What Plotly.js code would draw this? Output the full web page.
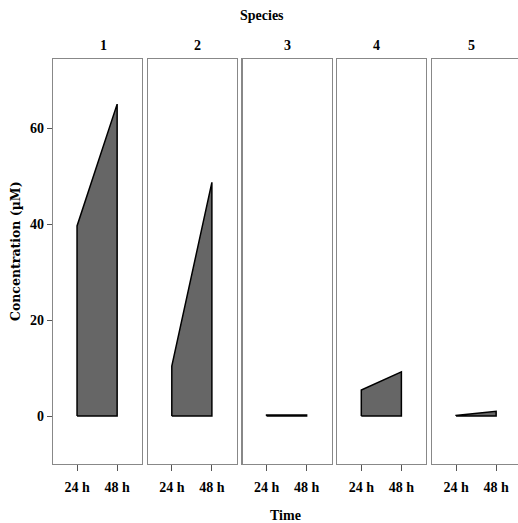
<!DOCTYPE html>
<html><head><meta charset="utf-8">
<script src="https://cdn.plot.ly/plotly-3.0.1.min.js"></script>
<style>html,body{margin:0;padding:0;overflow:hidden;background:#fff;}</style>
</head><body>
<div id="chart" style="width:521px;height:523px;"></div>
<script>
const species = ['1','2','3','4','5'];
const times = ['24 h','48 h'];
const conc24 = [39.6, 10.4, 0.2, 5.4, 0.1];
const conc48 = [65.0, 48.7, 0.2, 9.2, 1.0];
const yTicks = [0, 20, 40, 60];

const FONT = 'Liberation Serif, Times New Roman, serif';
const W = 521, ML = 53, PW = W - ML;
const step = 94.75, pw = 89;
const traces = [];
const layout = {
  width: W, height: 523,
  margin: {l: ML, r: 0, t: 59, b: 59},
  paper_bgcolor: '#fff', plot_bgcolor: '#fff',
  showlegend: false,
  font: {family: FONT, size: 14, color: '#000', weight: 'bold'},
  annotations: [
    {text: '<b>Species</b>', xref: 'paper', yref: 'paper', x: (262-ML)/PW, y: 1, yanchor: 'middle', yshift: 44, showarrow: false, font: {family: FONT, size: 14}},
    {text: '<b>Time</b>', xref: 'paper', yref: 'paper', x: (285-ML)/PW, y: 0, yanchor: 'middle', yshift: -51, showarrow: false, font: {family: FONT, size: 14}},
    {text: '<b>Concentration (µM)</b>', xref: 'paper', yref: 'paper', x: 0, xanchor: 'center', xshift: -38,
     y: (464-251)/405, yanchor: 'middle', textangle: -90, showarrow: false,
     font: {family: 'DejaVu Serif, serif', size: 12.5}}
  ]
};
species.forEach((s, i) => {
  const xa = i === 0 ? 'x' : 'x' + (i + 1);
  const ya = i === 0 ? 'y' : 'y' + (i + 1);
  traces.push({
    type: 'scatter', mode: 'lines', xaxis: xa, yaxis: ya,
    x: [times[0], times[0], times[1], times[1], times[0]],
    y: [0, conc24[i], conc48[i], 0, 0],
    fill: 'toself', fillcolor: '#666666',
    line: {color: '#000', width: 1.5}, hoverinfo: 'skip'
  });
  const left = i * step / PW, right = (i * step + pw) / PW;
  layout[i === 0 ? 'xaxis' : 'xaxis' + (i + 1)] = {
    domain: [left, Math.min(1, right)], anchor: ya,
    type: 'category', categoryorder: 'array', categoryarray: times,
    range: [-0.6, 1.62], showgrid: false, zeroline: false,
    showline: true, mirror: true, linecolor: '#888', linewidth: 1.2,
    ticks: 'outside', ticklen: 6, tickcolor: '#555', tickwidth: 1,
    ticklabelstandoff: 4,
    tickfont: {family: FONT, size: 14, weight: 'bold'}, fixedrange: true
  };
  layout[i === 0 ? 'yaxis' : 'yaxis' + (i + 1)] = {
    anchor: xa, range: [-10, 74.4], domain: [0, 1],
    showgrid: false, zeroline: false,
    showline: true, mirror: true, linecolor: '#888', linewidth: 1.2,
    ticks: i === 0 ? 'outside' : '', ticklen: 5, tickcolor: '#555',
    tickvals: yTicks, showticklabels: i === 0,
    tickfont: {family: FONT, size: 14, weight: 'bold'},
    fixedrange: true
  };
  layout.annotations.push({
    text: '<b>' + s + '</b>', xref: 'paper', yref: 'paper',
    x: (i * step + pw / 2) / PW, y: 1, yanchor: 'middle', yshift: 14, showarrow: false,
    font: {family: FONT, size: 14}
  });
});
Plotly.newPlot('chart', traces, layout, {displayModeBar: false, staticPlot: true});
</script>
</body></html>
